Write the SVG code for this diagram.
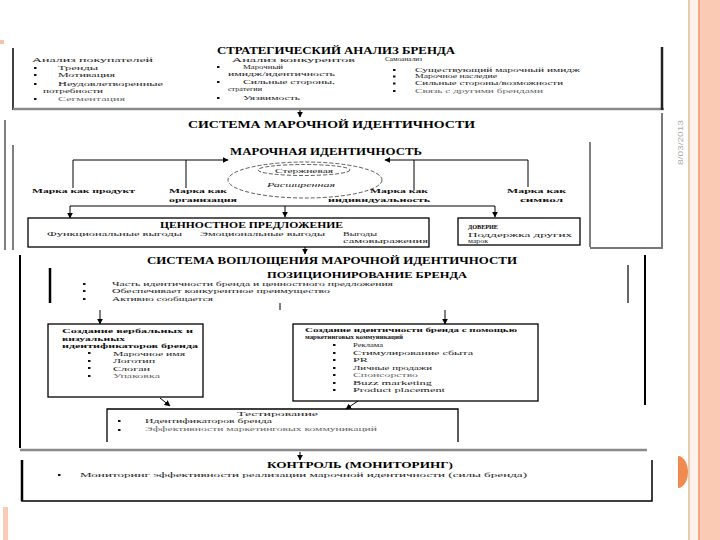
<svg xmlns="http://www.w3.org/2000/svg" width="720" height="540" viewBox="0 0 720 540">
<defs>
<marker id="ah" viewBox="0 0 10 10" refX="9" refY="5" markerWidth="6" markerHeight="6" markerUnits="userSpaceOnUse" orient="auto"><path d="M0,0 L10,5 L0,10 Z" fill="#000"/></marker>
<style>
text{font-family:"Liberation Serif","Times New Roman",serif;fill:#222;font-size:6.5px}
.h{font-weight:bold;font-size:9.5px;fill:#000}
.h2{font-weight:bold;font-size:8.5px;fill:#000}
.lb{font-weight:bold;fill:#111;font-size:7px}
.lt{fill:#666}
.it{font-style:italic}
.box{fill:none;stroke:#000;stroke-width:1.3}
.ln{fill:none;stroke:#000;stroke-width:1}
.ar{fill:none;stroke:#000;stroke-width:1;marker-end:url(#ah)}
.gr{fill:none;stroke:#8a8a8a;stroke-width:2.5}
.dash{fill:none;stroke:#333;stroke-width:0.8;stroke-dasharray:4 2}
.b{fill:#111}
</style>
</defs>
<rect width="720" height="540" fill="#fff"/>
<g id="decor">
<rect x="688" y="0" width="2" height="540" fill="#ecc9b6"/>
<rect x="690" y="0" width="8" height="540" fill="#fdf3ea"/>
<rect x="698" y="0" width="2" height="540" fill="#f2a888"/>
<rect x="700" y="0" width="20" height="540" fill="#fbcab4"/>
<path d="M678,456 A10,16 0 0 1 678,488 Z" fill="#f08a50"/>
<rect x="3" y="507" width="5" height="33" fill="#fbcab4"/>
<rect x="0" y="40" width="4" height="4" fill="#f6c2b0"/>
<text x="0" y="0" transform="translate(683,165) rotate(-90)" style="font-family:'Liberation Sans',sans-serif;font-size:7px;fill:#aaa" textLength="45" lengthAdjust="spacingAndGlyphs">8/03/2013</text>
</g>
<g id="frames">
<line x1="13" y1="48" x2="13" y2="110" stroke="#000" stroke-width="1.5"/>
<line x1="13" y1="109" x2="664" y2="109" class="gr"/>
<line x1="662" y1="47" x2="662" y2="110" stroke="#222" stroke-width="2.5"/>
<line x1="5" y1="120" x2="5" y2="250" class="ln"/>
<line x1="13" y1="145" x2="13" y2="250" class="ln"/>
<line x1="590" y1="142" x2="590" y2="247" class="ln"/>
<path d="M590,248 H662 V113" fill="none" stroke="#777" stroke-width="2"/>
<line x1="20" y1="255" x2="20" y2="448" stroke="#000" stroke-width="2"/>
<line x1="50" y1="268" x2="50" y2="303" stroke="#000" stroke-width="2.5"/>
<line x1="645" y1="255" x2="645" y2="405" stroke="#000" stroke-width="2"/>
<line x1="628" y1="265" x2="628" y2="303" stroke="#000" stroke-width="1.2"/>
<line x1="20" y1="450" x2="647" y2="450" class="gr"/>
<path d="M22,460 V501 H652 V460" fill="none" stroke="#000" stroke-width="1.5"/>
<line x1="22" y1="460" x2="22" y2="501" stroke="#000" stroke-width="2.5"/>
</g>
<g id="strategic">
<text class="h" x="217" y="54" textLength="238" lengthAdjust="spacingAndGlyphs">СТРАТЕГИЧЕСКИЙ АНАЛИЗ БРЕНДА</text>
<text x="32" y="62" textLength="121" lengthAdjust="spacingAndGlyphs">Анализ покупателей</text>
<rect class="b" x="34" y="67" width="2.5" height="2"/><text x="58" y="70" textLength="40" lengthAdjust="spacingAndGlyphs">Тренды</text>
<rect class="b" x="34" y="74" width="2.5" height="2"/><text x="58" y="77" textLength="57" lengthAdjust="spacingAndGlyphs">Мотивация</text>
<rect class="b" x="34" y="83" width="2.5" height="2"/><text x="58" y="86" textLength="105" lengthAdjust="spacingAndGlyphs">Неудовлетворенные</text>
<text x="43" y="93" textLength="60" lengthAdjust="spacingAndGlyphs">потребности</text>
<rect class="b" x="34" y="98" width="2.5" height="2"/><text class="lt" x="58" y="101" textLength="67" lengthAdjust="spacingAndGlyphs">Сегментация</text>
<text x="232" y="61.5" textLength="123" lengthAdjust="spacingAndGlyphs">Анализ конкурентов</text>
<rect class="b" x="217" y="66" width="2.5" height="2"/><text x="243" y="69" textLength="40" lengthAdjust="spacingAndGlyphs">Марочный</text>
<text x="228" y="76" textLength="107" lengthAdjust="spacingAndGlyphs">имидж/идентичность</text>
<rect class="b" x="217" y="81" width="2.5" height="2"/><text x="243" y="84" textLength="92" lengthAdjust="spacingAndGlyphs">Сильные стороны,</text>
<text x="228" y="91" textLength="34" lengthAdjust="spacingAndGlyphs">стратегии</text>
<rect class="b" x="217" y="97" width="2.5" height="2"/><text x="243" y="100" textLength="57" lengthAdjust="spacingAndGlyphs">Уязвимость</text>
<text x="385" y="60.5" textLength="37" lengthAdjust="spacingAndGlyphs">Самоанализ</text>
<rect class="b" x="393" y="69" width="2.5" height="2"/><text x="415" y="71.5" textLength="165" lengthAdjust="spacingAndGlyphs">Существующий марочный имидж</text>
<rect class="b" x="393" y="75.5" width="2.5" height="2"/><text x="415" y="78" textLength="82" lengthAdjust="spacingAndGlyphs">Марочное наследие</text>
<rect class="b" x="393" y="82.5" width="2.5" height="2"/><text x="415" y="85" textLength="148" lengthAdjust="spacingAndGlyphs">Сильные стороны/возможности</text>
<rect class="b" x="393" y="90" width="2.5" height="2"/><text class="lt" x="415" y="92.5" textLength="128" lengthAdjust="spacingAndGlyphs">Связь с другими брендами</text>
</g>
<g id="identity-system">
<text class="h" x="188" y="128" textLength="287" lengthAdjust="spacingAndGlyphs">СИСТЕМА МАРОЧНОЙ ИДЕНТИЧНОСТИ</text>
</g>
<g id="brand-identity">
<text class="h" x="230" y="155" textLength="192" lengthAdjust="spacingAndGlyphs">МАРОЧНАЯ ИДЕНТИЧНОСТЬ</text>
<ellipse class="dash" cx="305" cy="180" rx="77" ry="18"/>
<ellipse class="dash" cx="304" cy="170" rx="46" ry="5.5"/>
<text x="275" y="172.5" textLength="58" lengthAdjust="spacingAndGlyphs">Стержневая</text>
<text class="it" x="267" y="187" textLength="68" lengthAdjust="spacingAndGlyphs" style="font-size:7px">Расширенная</text>
</g>
<g id="brand-product"><text class="lb" x="32" y="193" textLength="103" lengthAdjust="spacingAndGlyphs">Марка как продукт</text></g>
<g id="brand-org"><text class="lb" x="169" y="193" textLength="58" lengthAdjust="spacingAndGlyphs">Марка как</text><text class="lb" x="169" y="201.5" textLength="68" lengthAdjust="spacingAndGlyphs">организация</text></g>
<g id="brand-person"><text class="lb" x="370" y="193" textLength="58" lengthAdjust="spacingAndGlyphs">Марка как</text><text class="lb" x="328" y="201.5" textLength="102" lengthAdjust="spacingAndGlyphs">индивидуальность</text></g>
<g id="brand-symbol"><text class="lb" x="507" y="193" textLength="59" lengthAdjust="spacingAndGlyphs">Марка как</text><text class="lb" x="520" y="201.5" textLength="43" lengthAdjust="spacingAndGlyphs">символ</text></g>
<g id="value">
<rect class="box" x="28" y="218" width="401" height="29"/>
<text class="h2" x="160" y="228" textLength="183" lengthAdjust="spacingAndGlyphs">ЦЕННОСТНОЕ ПРЕДЛОЖЕНИЕ</text>
<text x="47" y="236" textLength="135" lengthAdjust="spacingAndGlyphs">Функциональные выгоды</text>
<text x="200" y="236" textLength="125" lengthAdjust="spacingAndGlyphs">Эмоциональные выгоды</text>
<text x="343" y="236" textLength="34" lengthAdjust="spacingAndGlyphs">Выгоды</text>
<text x="343" y="243" textLength="85" lengthAdjust="spacingAndGlyphs">самовыражения</text>
</g>
<g id="trust">
<rect class="box" x="458" y="218" width="122" height="27"/>
<text class="h2" x="468" y="229" textLength="30" lengthAdjust="spacingAndGlyphs" style="font-size:7px">ДОВЕРИЕ</text>
<text x="468" y="236.5" textLength="104" lengthAdjust="spacingAndGlyphs">Поддержка других</text>
<text x="468" y="243" textLength="20" lengthAdjust="spacingAndGlyphs">марок</text>
</g>
<g id="implementation">
<text class="h" x="147" y="264" textLength="370" lengthAdjust="spacingAndGlyphs">СИСТЕМА ВОПЛОЩЕНИЯ МАРОЧНОЙ ИДЕНТИЧНОСТИ</text>
</g>
<g id="positioning">
<text class="h2" x="267" y="278" textLength="200" lengthAdjust="spacingAndGlyphs">ПОЗИЦИОНИРОВАНИЕ БРЕНДА</text>
<rect class="b" x="83" y="283" width="2.5" height="2"/><text x="112" y="286" textLength="281" lengthAdjust="spacingAndGlyphs">Часть идентичности бренда и ценностного предложения</text>
<rect class="b" x="83" y="290" width="2.5" height="2"/><text x="112" y="293" textLength="218" lengthAdjust="spacingAndGlyphs">Обеспечивает конкурентное преимущество</text>
<rect class="b" x="83" y="298" width="2.5" height="2"/><text x="112" y="301" textLength="101" lengthAdjust="spacingAndGlyphs">Активно сообщается</text>
</g>
<g id="identifiers">
<rect class="box" x="48" y="324" width="155" height="73"/>
<text class="lb" x="62" y="333" textLength="131" lengthAdjust="spacingAndGlyphs">Создание вербальных и</text>
<text class="lb" x="62" y="340.5" textLength="63" lengthAdjust="spacingAndGlyphs">визуальных</text>
<text class="lb" x="62" y="348" textLength="136" lengthAdjust="spacingAndGlyphs">идентификаторов бренда</text>
<rect class="b" x="88" y="352" width="2.5" height="2"/><text x="113" y="355.5" textLength="72" lengthAdjust="spacingAndGlyphs">Марочное имя</text>
<rect class="b" x="88" y="360" width="2.5" height="2"/><text x="113" y="363" textLength="42" lengthAdjust="spacingAndGlyphs">Логотип</text>
<rect class="b" x="88" y="367" width="2.5" height="2"/><text x="113" y="370.5" textLength="37" lengthAdjust="spacingAndGlyphs">Слоган</text>
<rect class="b" x="88" y="375" width="2.5" height="2"/><text class="lt" x="113" y="378" textLength="47" lengthAdjust="spacingAndGlyphs">Упаковка</text>
</g>
<g id="communications">
<rect class="box" x="293" y="324" width="245" height="77"/>
<text class="lb" x="305" y="332" textLength="212" lengthAdjust="spacingAndGlyphs" style="font-size:6.5px">Создание идентичности бренда с помощью</text>
<text class="lb" x="305" y="339" textLength="98" lengthAdjust="spacingAndGlyphs" style="font-size:6px">маркетинговых коммуникаций</text>
<rect class="b" x="333" y="344" width="2.5" height="2"/><text x="353" y="347" textLength="30" lengthAdjust="spacingAndGlyphs">Реклама</text>
<rect class="b" x="333" y="352" width="2.5" height="2"/><text x="353" y="354.5" textLength="120" lengthAdjust="spacingAndGlyphs">Стимулирование сбыта</text>
<rect class="b" x="333" y="359" width="2.5" height="2"/><text x="353" y="362" textLength="15" lengthAdjust="spacingAndGlyphs">PR</text>
<rect class="b" x="333" y="367" width="2.5" height="2"/><text x="353" y="369.5" textLength="79" lengthAdjust="spacingAndGlyphs">Личные продажи</text>
<rect class="b" x="333" y="374" width="2.5" height="2"/><text class="lt" x="353" y="377" textLength="65" lengthAdjust="spacingAndGlyphs">Спонсорство</text>
<rect class="b" x="333" y="382" width="2.5" height="2"/><text x="353" y="384.5" textLength="79" lengthAdjust="spacingAndGlyphs">Buzz marketing</text>
<rect class="b" x="333" y="389" width="2.5" height="2"/><text x="353" y="392" textLength="92" lengthAdjust="spacingAndGlyphs">Product placement</text>
</g>
<g id="testing">
<path class="box" d="M107,442 V409 H458 V442"/>
<text x="237" y="416" textLength="81" lengthAdjust="spacingAndGlyphs">Тестирование</text>
<rect class="b" x="118" y="420" width="2.5" height="2"/><text x="145" y="423" textLength="127" lengthAdjust="spacingAndGlyphs">Идентификаторов бренда</text>
<rect class="b" x="118" y="429" width="2.5" height="2"/><text class="lt" x="145" y="431" textLength="232" lengthAdjust="spacingAndGlyphs">Эффективности маркетинговых коммуникаций</text>
</g>
<g id="control">
<text class="h2" x="267" y="468" textLength="186" lengthAdjust="spacingAndGlyphs">КОНТРОЛЬ (МОНИТОРИНГ)</text>
<rect class="b" x="58" y="474" width="2.5" height="2"/>
<text x="80" y="477" textLength="447" lengthAdjust="spacingAndGlyphs">Мониторинг эффективности реализации марочной идентичности   (силы бренда)</text>
</g>
<g id="connectors">
<line class="ar" x1="300" y1="110" x2="300" y2="117"/>
<path class="ar" d="M73,188 V160 H228"/>
<line class="ln" x1="186" y1="160" x2="186" y2="188"/>
<path class="ar" d="M528,187 V160 H385"/>
<line class="ln" x1="414" y1="160" x2="414" y2="190"/>
<line class="ln" x1="70" y1="206" x2="495" y2="206"/>
<line class="ar" x1="70" y1="206" x2="70" y2="218"/>
<line class="ar" x1="285" y1="206" x2="285" y2="217" stroke-width="1.5"/>
<line class="ar" x1="495" y1="206" x2="495" y2="217"/>
<line class="ar" x1="305" y1="247" x2="305" y2="254"/>
<line class="ln" x1="280" y1="303" x2="280" y2="310"/>
<line class="ar" x1="100" y1="310" x2="100" y2="324"/>
<line class="ar" x1="445" y1="310" x2="445" y2="324"/>
<line class="ar" x1="160" y1="398" x2="170" y2="406"/>
<line class="ar" x1="358" y1="401" x2="346" y2="409"/>
<line class="ar" x1="300" y1="452" x2="300" y2="460"/>
</g>
</svg>
